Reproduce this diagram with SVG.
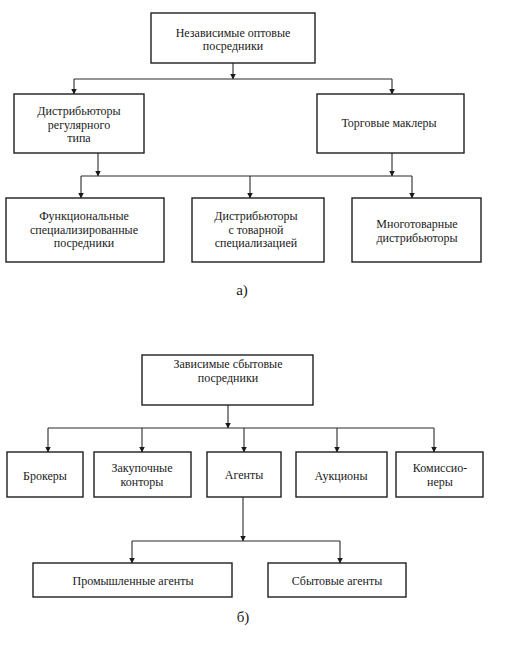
<svg xmlns="http://www.w3.org/2000/svg" width="519" height="647" viewBox="0 0 519 647">
<style>
.box{fill:#fff;stroke:#1e1e1e;stroke-width:1.4}
.ln{fill:none;stroke:#2a2a2a;stroke-width:1.1}
text{font-family:"Liberation Serif","DejaVu Serif",serif;font-size:12px;fill:#1a1a1a;text-anchor:middle;dominant-baseline:central}
.lbl{font-size:15px}
</style>
<defs>
<marker id="ar" markerWidth="6" markerHeight="8" refX="5.5" refY="3" orient="auto" markerUnits="userSpaceOnUse">
<path d="M0,0 L6,3 L0,6 Z" fill="#1a1a1a"/>
</marker>
</defs>
<rect width="519" height="647" fill="#fff"/>
<g id="connectors">
<path class="ln" d="M233,63 V79" marker-end="url(#ar)"/>
<path class="ln" d="M74,79 H392"/>
<path class="ln" d="M74,79 V94" marker-end="url(#ar)"/>
<path class="ln" d="M392,79 V94" marker-end="url(#ar)"/>
<path class="ln" d="M98,153 V176" marker-end="url(#ar)"/>
<path class="ln" d="M392,153 V176" marker-end="url(#ar)"/>
<path class="ln" d="M81,176 H412"/>
<path class="ln" d="M81,176 V198" marker-end="url(#ar)"/>
<path class="ln" d="M250,176 V198" marker-end="url(#ar)"/>
<path class="ln" d="M412,176 V198" marker-end="url(#ar)"/>
<path class="ln" d="M228,405 V428" marker-end="url(#ar)"/>
<path class="ln" d="M48,428 H434"/>
<path class="ln" d="M48,428 V452" marker-end="url(#ar)"/>
<path class="ln" d="M142,428 V452" marker-end="url(#ar)"/>
<path class="ln" d="M244,428 V452" marker-end="url(#ar)"/>
<path class="ln" d="M337,428 V452" marker-end="url(#ar)"/>
<path class="ln" d="M434,428 V452" marker-end="url(#ar)"/>
<path class="ln" d="M243,497 V541" marker-end="url(#ar)"/>
<path class="ln" d="M132,541 H340"/>
<path class="ln" d="M132,541 V563" marker-end="url(#ar)"/>
<path class="ln" d="M340,541 V563" marker-end="url(#ar)"/>
</g>
<g id="n_top_a"><rect class="box" x="151" y="13" width="164" height="50"/><text x="233" y="32.5">Независимые оптовые</text><text x="233" y="46">посредники</text></g>
<g id="n_distr_reg"><rect class="box" x="14" y="94" width="130" height="59"/><text x="79" y="111">Дистрибьюторы</text><text x="79" y="124.5">регулярного</text><text x="79" y="138">типа</text></g>
<g id="n_makler"><rect class="box" x="317" y="94" width="147" height="59"/><text x="389" y="123">Торговые маклеры</text></g>
<g id="n_func"><rect class="box" x="6" y="198" width="158" height="64"/><text x="84" y="216">Функциональные</text><text x="84" y="229.5">специализированные</text><text x="84" y="243">посредники</text></g>
<g id="n_distr_tov"><rect class="box" x="192" y="198" width="132" height="64"/><text x="256" y="216">Дистрибьюторы</text><text x="256" y="229.5">с товарной</text><text x="256" y="243">специализацией</text></g>
<g id="n_multi"><rect class="box" x="352" y="198" width="129" height="64"/><text x="417" y="224">Многотоварные</text><text x="417" y="237.5">дистрибьюторы</text></g>
<text class="lbl" x="242" y="290">а)</text>
<g id="n_top_b"><rect class="box" x="142" y="355" width="171" height="50"/><text x="228" y="364">Зависимые сбытовые</text><text x="228" y="377.5">посредники</text></g>
<g id="n_broker"><rect class="box" x="7" y="452" width="76" height="45"/><text x="45" y="476">Брокеры</text></g>
<g id="n_zakup"><rect class="box" x="94" y="452" width="97" height="45"/><text x="142" y="468">Закупочные</text><text x="142" y="481.5">конторы</text></g>
<g id="n_agent"><rect class="box" x="207" y="452" width="74" height="45"/><text x="244" y="475">Агенты</text></g>
<g id="n_auction"><rect class="box" x="296" y="452" width="91" height="45"/><text x="341" y="476">Аукционы</text></g>
<g id="n_komis"><rect class="box" x="396" y="452" width="87" height="45"/><text x="440" y="468">Комиссио-</text><text x="440" y="481.5">неры</text></g>
<g id="n_prom"><rect class="box" x="33" y="563" width="199" height="34"/><text x="133" y="581">Промышленные агенты</text></g>
<g id="n_sbyt"><rect class="box" x="268" y="563" width="138" height="34"/><text x="337" y="581">Сбытовые агенты</text></g>
<text class="lbl" x="243" y="617">б)</text>
</svg>
